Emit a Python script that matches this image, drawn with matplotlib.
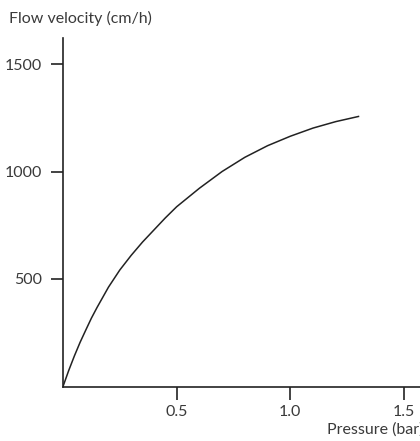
import matplotlib
matplotlib.use("Agg")
import matplotlib.pyplot as plt

# values
pressure = [0.0, 0.025, 0.05, 0.075, 0.1, 0.125, 0.15, 0.2, 0.25, 0.3, 0.35, 0.4, 0.45,
            0.5, 0.6, 0.7, 0.8, 0.9, 1.0, 1.1, 1.2, 1.3]
velocity = [0, 74, 142, 205, 262, 318, 368, 462, 542, 610, 672, 728, 784,
            836, 922, 1000, 1066, 1120, 1164, 1202, 1232, 1256]

x_ticks = [0.5, 1.0, 1.5]
x_labels = ["0.5", "1.0", "1.5"]
y_ticks = [500, 1000, 1500]
y_labels = ["500", "1000", "1500"]

plt.rcParams['font.family'] = ['Lato', 'DejaVu Sans']
text_col = '#3a3a3a'
line_col = '#222222'

W, H = 420, 441
fig = plt.figure(figsize=(W / 100, H / 100), dpi=100)
# axes: left spine at x=63, bottom at y=386.5, top at y=38, runs off the right edge
ax = fig.add_axes([63 / W, 1 - 386.5 / H, 1 - 63 / W, (386.5 - 38) / H])

ax.plot(pressure, velocity, color=line_col, linewidth=1.1)

ax.set_xlim(0, (W - 63) / 227.3)
ax.set_ylim(0, (386.5 - 38) / 0.215)

ax.spines['top'].set_visible(False)
ax.spines['right'].set_visible(False)
for s in ('left', 'bottom'):
    ax.spines[s].set_color(line_col)
    ax.spines[s].set_linewidth(1.2)

ax.set_xticks(x_ticks)
ax.set_xticklabels(x_labels)
ax.set_yticks(y_ticks)
ax.set_yticklabels(y_labels)
ax.tick_params(axis='both', direction='out', length=9, width=1.2, color=line_col,
               labelsize=11.5, labelcolor=text_col)
ax.tick_params(axis='x', pad=4)
ax.tick_params(axis='y', pad=6)

fig.text(9 / W, 1 - 18 / H, "Flow velocity (cm/h)", ha='left', va='center',
         fontsize=11.5, color=text_col)
fig.text(327 / W, 1 - 430 / H, "Pressure (bar)", ha='left', va='center',
         fontsize=11.5, color=text_col)

fig.savefig("out.png", dpi=100)
